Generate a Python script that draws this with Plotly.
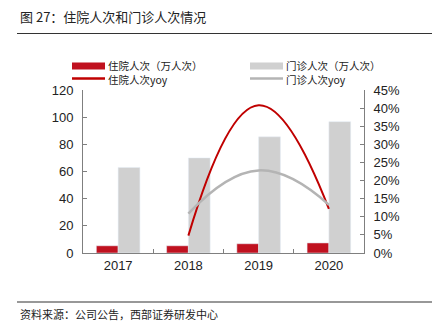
import plotly.graph_objects as go

years = ["2017", "2018", "2019", "2020"]
inpatient = [5.3, 5.3, 6.8, 7.4]          # 住院人次（万人次）
outpatient = [63, 70, 85.5, 96.7]         # 门诊人次（万人次）
yoy_years = ["2018", "2019", "2020"]
inpatient_yoy = [4.8, 40.8, 12.2]         # %
outpatient_yoy = [10.9, 22.8, 13.3]       # %

W, H = 437, 330
L, R, T, B = 83, 73, 90, 77
PW, PH = W - L - R, H - T - B

def px(x):
    return (x - L) / PW

def py(y):
    return (H - B - y) / PH

RED = "#C0111F"
RED_LINE = "#C00000"
GRAY = "#D0D0D0"
GRAY_LINE = "#B4B4B4"
TXT = "#222222"
CJK = "Noto Sans CJK SC"
LAT = "Liberation Sans, Arial"

fig = go.Figure()
fig.add_bar(x=years, y=inpatient, marker_color=RED, name="住院人次（万人次）", showlegend=False)
fig.add_bar(x=years, y=outpatient, marker_color=GRAY, name="门诊人次（万人次）", showlegend=False)
fig.add_scatter(x=yoy_years, y=inpatient_yoy, yaxis="y2", mode="lines",
                line=dict(color=RED_LINE, width=2, shape="spline", smoothing=1.3),
                name="住院人次yoy", showlegend=False)
fig.add_scatter(x=yoy_years, y=outpatient_yoy, yaxis="y2", mode="lines",
                line=dict(color=GRAY_LINE, width=2.5, shape="spline", smoothing=1.3),
                name="门诊人次yoy", showlegend=False)

axis_common = dict(showline=True, linecolor="#7f7f7f", linewidth=1, ticks="inside",
                   tickcolor="#7f7f7f", ticklen=4, showgrid=False, zeroline=False,
                   tickfont=dict(family=LAT, size=13, color=TXT))

fig.update_layout(
    width=W, height=H,
    margin=dict(l=L, r=R, t=T, b=B, pad=0),
    paper_bgcolor="white", plot_bgcolor="white",
    barmode="group", bargap=0.38, bargroupgap=0,
    xaxis=dict(**axis_common, tickson="boundaries", type="category"),
    yaxis=dict(**axis_common, range=[0, 120], dtick=20, ticklabelstandoff=6),
    yaxis2=dict(**axis_common, range=[0, 45], dtick=5, ticksuffix="%", overlaying="y",
                side="right", ticklabelstandoff=6),
)

shapes = []
annotations = []
# title & rules
annotations.append(dict(text="图 27：住院人次和门诊人次情况", x=px(18), y=py(17), xref="paper", yref="paper",
                        xanchor="left", yanchor="middle", showarrow=False,
                        font=dict(family=CJK, size=13, color=TXT)))
shapes.append(dict(type="line", x0=px(17), x1=px(432), y0=py(33.5), y1=py(33.5), xref="paper", yref="paper",
                   line=dict(color="#333333", width=1.2)))
shapes.append(dict(type="line", x0=px(17), x1=px(432), y0=py(302), y1=py(302), xref="paper", yref="paper",
                   line=dict(color="#333333", width=1.2)))
annotations.append(dict(text="资料来源：公司公告，西部证券研发中心", x=px(18), y=py(314), xref="paper", yref="paper",
                        xanchor="left", yanchor="middle", showarrow=False,
                        font=dict(family=CJK, size=11, color=TXT)))

# legend (two rows per column, drawn by hand)
ROW1, ROW2 = 66, 79.5

def legend_column(x0, box_color, line_color, label1, label2):
    shapes.append(dict(type="rect", x0=px(x0), x1=px(x0 + 33), y0=py(ROW1 + 3.5), y1=py(ROW1 - 3.5),
                       xref="paper", yref="paper", fillcolor=box_color, line=dict(width=0)))
    shapes.append(dict(type="line", x0=px(x0), x1=px(x0 + 33), y0=py(ROW2 - 1), y1=py(ROW2 - 1),
                       xref="paper", yref="paper", line=dict(color=line_color, width=2.5)))
    annotations.append(dict(text=label1 + "<br>" + label2, x=px(x0 + 35), y=py((ROW1 + ROW2) / 2),
                            xref="paper", yref="paper", xanchor="left", yanchor="middle", align="left",
                            showarrow=False, borderpad=0,
                            font=dict(family=CJK, size=10.5, color=TXT)))

legend_column(72, RED, RED_LINE, "住院人次（万人次）", "住院人次yoy")
legend_column(250, GRAY, GRAY_LINE, "门诊人次（万人次）", "门诊人次yoy")

fig.update_layout(shapes=shapes, annotations=annotations)
fig.write_html("out.html")
